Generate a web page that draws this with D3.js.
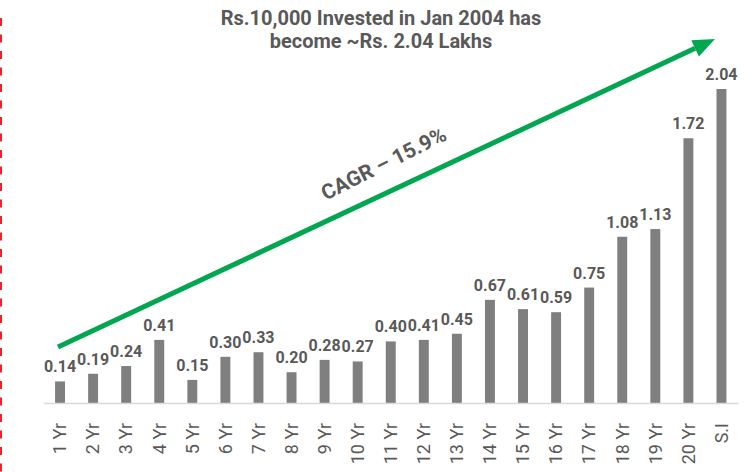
<!DOCTYPE html>
<html>
<head>
  <script src="https://cdn.jsdelivr.net/npm/d3@7"></script>
  <style>
    body { margin: 0; background: #fff; }
    text { font-family: Roboto, "Noto Sans", sans-serif; }
  </style>
</head>
<body>
  <svg width="751" height="472" id="mainsvg"></svg>
  <script>
    const categories = ['1 Yr', '2 Yr', '3 Yr', '4 Yr', '5 Yr', '6 Yr', '7 Yr', '8 Yr', '9 Yr', '10 Yr',
      '11 Yr', '12 Yr', '13 Yr', '14 Yr', '15 Yr', '16 Yr', '17 Yr', '18 Yr', '19 Yr', '20 Yr', 'S.I'];
    const values = [0.14, 0.19, 0.24, 0.41, 0.15, 0.30, 0.33, 0.20, 0.28, 0.27,
      0.40, 0.41, 0.45, 0.67, 0.61, 0.59, 0.75, 1.08, 1.13, 1.72, 2.04];
    const titleLines = ['Rs.10,000 Invested in Jan 2004 has', 'become ~Rs. 2.04 Lakhs'];
    const cagrLabel = 'CAGR \u2013 15.9%';

    const svg = d3.select('#mainsvg');
    const data = categories.map((c, i) => ({ cat: c, val: values[i] }));

    const xScale = d3.scaleBand()
      .domain(categories)
      .range([43.5, 738])
      .paddingInner(0.7)
      .paddingOuter(0.35);

    const yScale = d3.scaleLinear()
      .domain([0, 2.04])
      .range([403, 89]);

    // red dashed marker on the far left
    svg.append('line')
      .attr('x1', 1).attr('x2', 1)
      .attr('y1', 18).attr('y2', 472)
      .attr('stroke', '#e8262a').attr('stroke-width', 2)
      .attr('stroke-dasharray', '8,8.5');

    // bars
    svg.selectAll('.bar').data(data).join('rect').attr('class', 'bar')
      .attr('x', d => xScale(d.cat))
      .attr('y', d => yScale(d.val))
      .attr('width', xScale.bandwidth())
      .attr('height', d => yScale(0) - yScale(d.val))
      .attr('fill', '#7f7f7f');

    // x axis
    const xAxis = d3.axisBottom(xScale).tickSize(0).tickPadding(0);
    const axisG = svg.append('g').attr('transform', `translate(0, ${yScale(0)})`).call(xAxis);
    axisG.select('.domain').attr('stroke', '#d9d9d9').attr('stroke-width', 1.5);
    axisG.selectAll('.tick text')
      .attr('transform', 'rotate(-90)')
      .attr('x', -20).attr('y', 0).attr('dy', '0.35em')
      .attr('text-anchor', 'end')
      .attr('font-family', 'Roboto, sans-serif')
      .attr('font-size', 18)
      .attr('fill', '#595959');

    // value labels
    svg.selectAll('.vlabel').data(data).join('text').attr('class', 'vlabel')
      .attr('x', d => xScale(d.cat) + xScale.bandwidth() / 2)
      .attr('y', d => yScale(d.val) - 9)
      .attr('text-anchor', 'middle')
      .attr('font-size', 16)
      .attr('font-weight', 'bold')
      .attr('fill', '#595959')
      .text(d => d.val.toFixed(2));

    // title
    svg.selectAll('.title').data(titleLines).join('text').attr('class', 'title')
      .attr('x', 381)
      .attr('y', (d, i) => 25 + i * 23.3)
      .attr('text-anchor', 'middle')
      .attr('font-size', 20)
      .attr('font-weight', 'bold')
      .attr('fill', '#595959')
      .text(d => d);

    // green growth arrow
    const x0 = 58, y0 = 347, x1 = 715, y1 = 39;
    const ang = Math.atan2(y1 - y0, x1 - x0);
    const headLen = 22, headW = 9;
    const bx = x1 - headLen * Math.cos(ang), by = y1 - headLen * Math.sin(ang);
    svg.append('line')
      .attr('x1', x0).attr('y1', y0).attr('x2', bx).attr('y2', by)
      .attr('stroke', '#00a650').attr('stroke-width', 5);
    const px = -Math.sin(ang), py = Math.cos(ang);
    svg.append('path')
      .attr('d', `M${x1},${y1} L${bx + px * headW},${by + py * headW} L${bx - px * headW},${by - py * headW} Z`)
      .attr('fill', '#00a650');

    svg.append('text')
      .attr('transform', `translate(387, 170) rotate(${ang * 180 / Math.PI - 1.5})`)
      .attr('text-anchor', 'middle')
      .attr('font-size', 21)
      .attr('font-weight', 'bold')
      .attr('fill', '#595959')
      .text(cagrLabel);
  </script>
</body>
</html>
